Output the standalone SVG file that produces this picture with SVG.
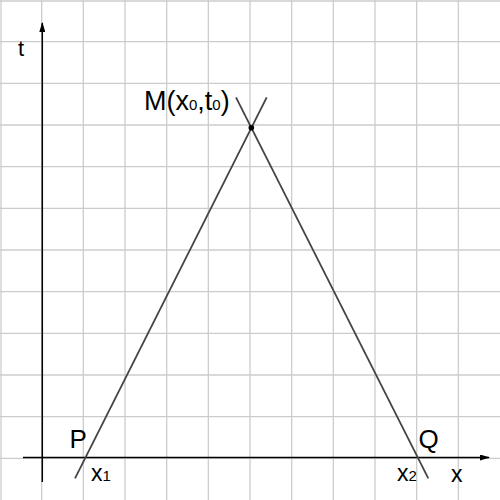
<svg xmlns="http://www.w3.org/2000/svg" width="500" height="500" viewBox="0 0 500 500">
<style>
.grid line{stroke:#cccccc;stroke-width:1.3}
.axis{stroke:#000;stroke-width:1.5;fill:none}
.ln{stroke:#444;stroke-width:1.8;fill:none}
text{font-family:"Liberation Sans",Arial,sans-serif;fill:#000}
.sub{font-size:15px}
</style>
<defs>
<marker id="arr" markerWidth="10" markerHeight="6" refX="9" refY="3" orient="auto" markerUnits="userSpaceOnUse">
<path d="M0,0 L10,3 L0,6 Z" fill="#000"/>
</marker>
</defs>
<rect width="500" height="500" fill="#fff"/>
<g class="grid">
<line x1="1" y1="0" x2="1" y2="500"/>
<line x1="41.67" y1="0" x2="41.67" y2="500"/>
<line x1="83.33" y1="0" x2="83.33" y2="500"/>
<line x1="125" y1="0" x2="125" y2="500"/>
<line x1="166.67" y1="0" x2="166.67" y2="500"/>
<line x1="208.33" y1="0" x2="208.33" y2="500"/>
<line x1="250" y1="0" x2="250" y2="500"/>
<line x1="291.67" y1="0" x2="291.67" y2="500"/>
<line x1="333.33" y1="0" x2="333.33" y2="500"/>
<line x1="375" y1="0" x2="375" y2="500"/>
<line x1="416.67" y1="0" x2="416.67" y2="500"/>
<line x1="458.33" y1="0" x2="458.33" y2="500"/>
<line x1="0" y1="1" x2="500" y2="1"/>
<line x1="0" y1="41.67" x2="500" y2="41.67"/>
<line x1="0" y1="83.33" x2="500" y2="83.33"/>
<line x1="0" y1="125" x2="500" y2="125"/>
<line x1="0" y1="166.67" x2="500" y2="166.67"/>
<line x1="0" y1="208.33" x2="500" y2="208.33"/>
<line x1="0" y1="250" x2="500" y2="250"/>
<line x1="0" y1="291.67" x2="500" y2="291.67"/>
<line x1="0" y1="333.33" x2="500" y2="333.33"/>
<line x1="0" y1="375" x2="500" y2="375"/>
<line x1="0" y1="416.67" x2="500" y2="416.67"/>
<line x1="0" y1="458.33" x2="500" y2="458.33"/>
</g>
<g id="axes">
<line class="axis" x1="23" y1="457.5" x2="489" y2="457.5" marker-end="url(#arr)"/>
<line class="axis" x1="42.3" y1="482" x2="42.3" y2="23" marker-end="url(#arr)"/>
</g>
<g id="connectors">
<line class="ln" x1="75" y1="478.3" x2="266.7" y2="97.3"/>
<line class="ln" x1="236" y1="97.3" x2="428.3" y2="478.3"/>
</g>
<g id="M">
<circle cx="251.3" cy="127.7" r="2.8" fill="#000"/>
<text x="144" y="109.5" font-size="27">M(x<tspan class="sub">0</tspan>,t<tspan class="sub">0</tspan>)</text>
</g>
<g id="P"><text x="69.5" y="448" font-size="26">P</text></g>
<g id="Q"><text x="418.5" y="448" font-size="26">Q</text></g>
<g id="labels">
<text x="18" y="56" font-size="22">t</text>
<text x="91" y="481" font-size="23">x<tspan class="sub">1</tspan></text>
<text x="397" y="481" font-size="23">x<tspan class="sub">2</tspan></text>
<text x="451" y="482" font-size="23">x</text>
</g>
</svg>
